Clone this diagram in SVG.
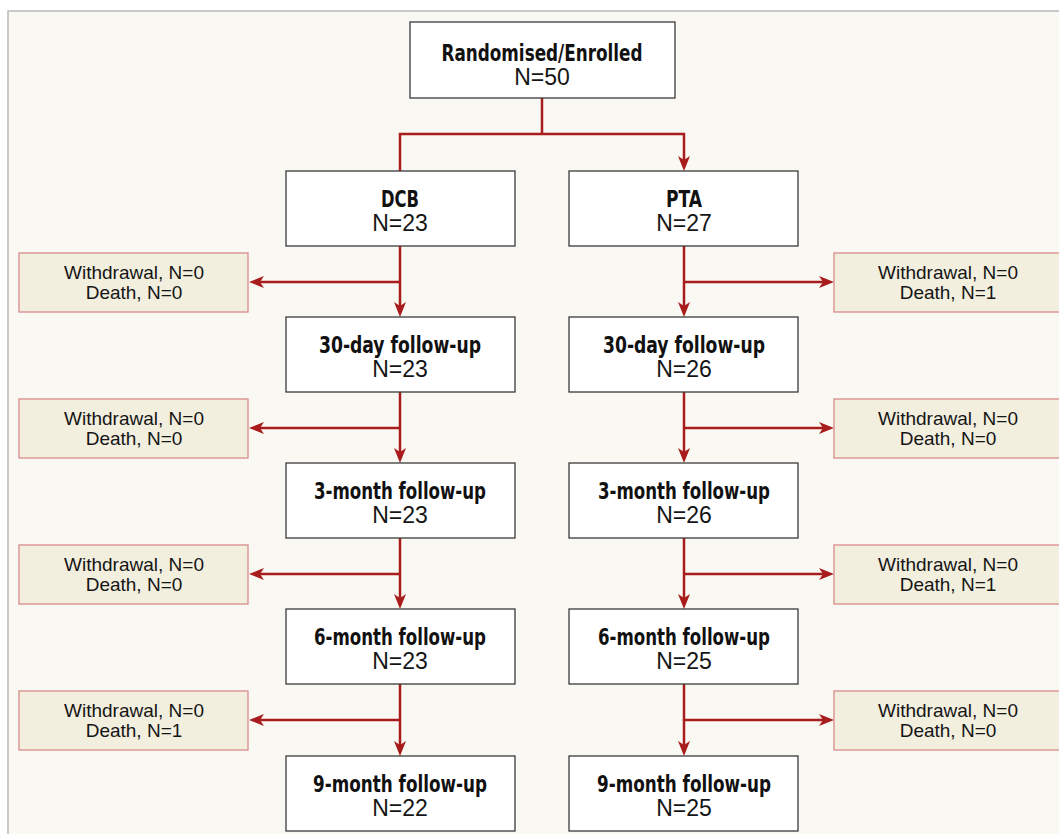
<svg xmlns="http://www.w3.org/2000/svg" width="1059" height="834" viewBox="0 0 1059 834">
<defs>
<style>
.bg{fill:#f9f8f3;stroke:#b8b8b8;stroke-width:1.5}
.box{fill:#ffffff;stroke:#3a3a3a;stroke-width:1.3}
.side{fill:#f2efdf;stroke:#d88a8a;stroke-width:1.3}
.t{font-family:"Liberation Sans Narrow","DejaVu Sans Condensed",sans-serif;font-weight:bold;font-size:22.5px;fill:#111111;text-anchor:middle}
.n{font-family:"Liberation Sans",Arial,sans-serif;font-size:23px;fill:#151515;text-anchor:middle}
.s{font-family:"Liberation Sans",Arial,sans-serif;font-size:19px;fill:#151515;text-anchor:middle}
.c{fill:none;stroke:#a81c1c;stroke-width:2.5}
</style>
<marker id="ah" markerUnits="userSpaceOnUse" viewBox="0 0 15 12" markerWidth="15" markerHeight="12" refX="10" refY="6" orient="auto">
<path d="M15,6 L0,0 L4,6 L0,12 Z" fill="#a81c1c"/>
</marker>
</defs>
<rect class="bg" x="8" y="11" width="1060" height="830"/>

<g id="connectors">
<path class="c" d="M542,98 V134"/>
<path class="c" d="M400,171 V134 H684 V166" marker-end="url(#ah)"/>
<path class="c" d="M400,246 V312" marker-end="url(#ah)"/>
<path class="c" d="M400,282 H254" marker-end="url(#ah)"/>
<path class="c" d="M684,246 V312" marker-end="url(#ah)"/>
<path class="c" d="M684,282 H829" marker-end="url(#ah)"/>
<path class="c" d="M400,392 V458" marker-end="url(#ah)"/>
<path class="c" d="M400,428 H254" marker-end="url(#ah)"/>
<path class="c" d="M684,392 V458" marker-end="url(#ah)"/>
<path class="c" d="M684,428 H829" marker-end="url(#ah)"/>
<path class="c" d="M400,538 V604" marker-end="url(#ah)"/>
<path class="c" d="M400,574 H254" marker-end="url(#ah)"/>
<path class="c" d="M684,538 V604" marker-end="url(#ah)"/>
<path class="c" d="M684,574 H829" marker-end="url(#ah)"/>
<path class="c" d="M400,684 V751" marker-end="url(#ah)"/>
<path class="c" d="M400,720 H254" marker-end="url(#ah)"/>
<path class="c" d="M684,684 V751" marker-end="url(#ah)"/>
<path class="c" d="M684,720 H829" marker-end="url(#ah)"/>
</g>

<g id="enrolled"><rect class="box" x="410" y="22" width="265" height="76"/><text class="t" x="542" y="61" textLength="201" lengthAdjust="spacingAndGlyphs">Randomised/Enrolled</text><text class="n" x="542" y="85">N=50</text></g>

<g id="dcb"><rect class="box" x="286" y="171" width="229" height="75"/><text class="t" x="400" y="207" textLength="38" lengthAdjust="spacingAndGlyphs">DCB</text><text class="n" x="400" y="231">N=23</text></g>
<g id="pta"><rect class="box" x="569" y="171" width="229" height="75"/><text class="t" x="684" y="207" textLength="36" lengthAdjust="spacingAndGlyphs">PTA</text><text class="n" x="684" y="231">N=27</text></g>

<g id="dcb-loss1"><rect class="side" x="19" y="253" width="229" height="59"/><text class="s" x="134" y="279">Withdrawal, N=0</text><text class="s" x="134" y="299">Death, N=0</text></g>
<g id="pta-loss1"><rect class="side" x="834" y="253" width="229" height="59"/><text class="s" x="948" y="279">Withdrawal, N=0</text><text class="s" x="948" y="299">Death, N=1</text></g>

<g id="dcb-30d"><rect class="box" x="286" y="317" width="229" height="75"/><text class="t" x="400" y="353" textLength="162" lengthAdjust="spacingAndGlyphs">30-day follow-up</text><text class="n" x="400" y="377">N=23</text></g>
<g id="pta-30d"><rect class="box" x="569" y="317" width="229" height="75"/><text class="t" x="684" y="353" textLength="162" lengthAdjust="spacingAndGlyphs">30-day follow-up</text><text class="n" x="684" y="377">N=26</text></g>

<g id="dcb-loss2"><rect class="side" x="19" y="399" width="229" height="59"/><text class="s" x="134" y="425">Withdrawal, N=0</text><text class="s" x="134" y="445">Death, N=0</text></g>
<g id="pta-loss2"><rect class="side" x="834" y="399" width="229" height="59"/><text class="s" x="948" y="425">Withdrawal, N=0</text><text class="s" x="948" y="445">Death, N=0</text></g>

<g id="dcb-3m"><rect class="box" x="286" y="463" width="229" height="75"/><text class="t" x="400" y="499" textLength="172" lengthAdjust="spacingAndGlyphs">3-month follow-up</text><text class="n" x="400" y="523">N=23</text></g>
<g id="pta-3m"><rect class="box" x="569" y="463" width="229" height="75"/><text class="t" x="684" y="499" textLength="172" lengthAdjust="spacingAndGlyphs">3-month follow-up</text><text class="n" x="684" y="523">N=26</text></g>

<g id="dcb-loss3"><rect class="side" x="19" y="545" width="229" height="59"/><text class="s" x="134" y="571">Withdrawal, N=0</text><text class="s" x="134" y="591">Death, N=0</text></g>
<g id="pta-loss3"><rect class="side" x="834" y="545" width="229" height="59"/><text class="s" x="948" y="571">Withdrawal, N=0</text><text class="s" x="948" y="591">Death, N=1</text></g>

<g id="dcb-6m"><rect class="box" x="286" y="609" width="229" height="75"/><text class="t" x="400" y="645" textLength="172" lengthAdjust="spacingAndGlyphs">6-month follow-up</text><text class="n" x="400" y="669">N=23</text></g>
<g id="pta-6m"><rect class="box" x="569" y="609" width="229" height="75"/><text class="t" x="684" y="645" textLength="172" lengthAdjust="spacingAndGlyphs">6-month follow-up</text><text class="n" x="684" y="669">N=25</text></g>

<g id="dcb-loss4"><rect class="side" x="19" y="691" width="229" height="59"/><text class="s" x="134" y="717">Withdrawal, N=0</text><text class="s" x="134" y="737">Death, N=1</text></g>
<g id="pta-loss4"><rect class="side" x="834" y="691" width="229" height="59"/><text class="s" x="948" y="717">Withdrawal, N=0</text><text class="s" x="948" y="737">Death, N=0</text></g>

<g id="dcb-9m"><rect class="box" x="286" y="756" width="229" height="75"/><text class="t" x="400" y="792" textLength="174" lengthAdjust="spacingAndGlyphs">9-month follow-up</text><text class="n" x="400" y="816">N=22</text></g>
<g id="pta-9m"><rect class="box" x="569" y="756" width="229" height="75"/><text class="t" x="684" y="792" textLength="174" lengthAdjust="spacingAndGlyphs">9-month follow-up</text><text class="n" x="684" y="816">N=25</text></g>
</svg>
